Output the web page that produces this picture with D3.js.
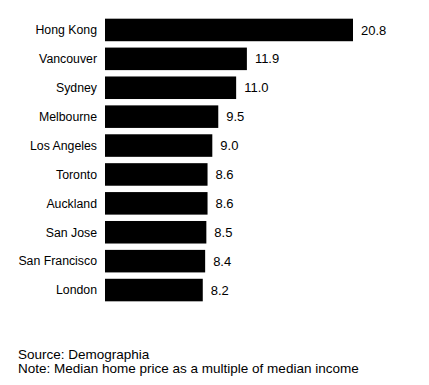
<!DOCTYPE html>
<html>
<head>
<meta charset="utf-8">
<script src="https://cdn.jsdelivr.net/npm/d3@7.9.0/dist/d3.min.js"></script>
<style>
  body { margin: 0; background: #fff; }
  svg text { font-family: "Liberation Sans", Arial, sans-serif; fill: #000; }
</style>
</head>
<body>
<svg id="chart" width="429" height="385"></svg>
<script>
const cities = ['Hong Kong', 'Vancouver', 'Sydney', 'Melbourne', 'Los Angeles',
  'Toronto', 'Auckland', 'San Jose', 'San Francisco', 'London'];
const ratios = [20.8, 11.9, 11.0, 9.5, 9.0, 8.6, 8.6, 8.5, 8.4, 8.2];
const notes = ['Source: Demographia', 'Note: Median home price as a multiple of median income'];

const svg = d3.select('#chart');

// bars start at x=105, hong kong ends at ~353
let x = d3.scaleLinear().domain([0, 20.8]).range([105, 353]);
let y = d3.scaleBand()
  .domain(cities)
  .range([15.5, 304.5])
  .paddingInner(0.22)
  .paddingOuter(0.11);

const data = cities.map((c, i) => ({ city: c, value: ratios[i] }));

svg.selectAll('rect.bar')
  .data(data)
  .join('rect')
  .attr('class', 'bar')
  .attr('x', x(0))
  .attr('y', d => y(d.city))
  .attr('width', d => x(d.value) - x(0))
  .attr('height', y.bandwidth())
  .attr('fill', '#000');

svg.selectAll('text.city')
  .data(data)
  .join('text')
  .attr('class', 'city')
  .attr('x', 97)
  .attr('y', d => y(d.city) + y.bandwidth() / 2)
  .attr('dy', '0.35em')
  .attr('text-anchor', 'end')
  .attr('font-size', 12.3)
  .text(d => d.city);

svg.selectAll('text.val')
  .data(data)
  .join('text')
  .attr('class', 'val')
  .attr('x', d => x(d.value) + 8)
  .attr('y', d => y(d.city) + y.bandwidth() / 2)
  .attr('dy', '0.35em')
  .attr('font-size', 13)
  .text(d => d.value.toFixed(1));

svg.selectAll('text.note')
  .data(notes)
  .join('text')
  .attr('class', 'note')
  .attr('x', 18)
  .attr('y', (d, i) => 359 + i * 14)
  .attr('font-size', 13.5)
  .text(d => d);
</script>
</body>
</html>
